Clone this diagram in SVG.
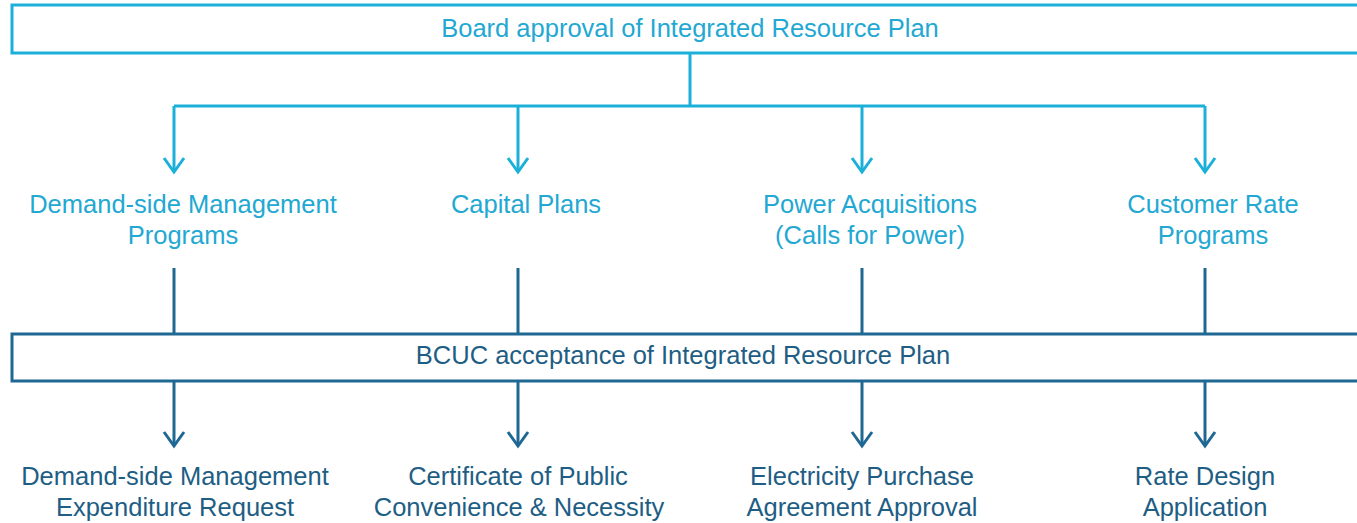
<svg xmlns="http://www.w3.org/2000/svg" width="1357" height="523" viewBox="0 0 1357 523">
<style>
.t{font-family:"Liberation Sans",Arial,sans-serif;font-size:25.5px;text-anchor:middle}
.lt{fill:#22A8D2}
.dk{fill:#1E5E84}
.bl{fill:none;stroke:#1BB0DA;stroke-width:3}
.bd{fill:none;stroke:#1F6894;stroke-width:3}
</style>
<defs>
<marker id="al" markerUnits="userSpaceOnUse" markerWidth="20" markerHeight="24" refX="17" refY="12" viewBox="0 0 20 24" orient="auto">
<path d="M3,2 L17,12 L3,22" fill="none" stroke="#1BB0DA" stroke-width="3"/>
</marker>
<marker id="ad" markerUnits="userSpaceOnUse" markerWidth="20" markerHeight="24" refX="17" refY="12" viewBox="0 0 20 24" orient="auto">
<path d="M3,2 L17,12 L3,22" fill="none" stroke="#1F6894" stroke-width="3"/>
</marker>
</defs>
<g id="connectors">
<path class="bl" d="M690,53 V106"/>
<path class="bl" d="M174,106 H1205"/>
<path class="bl" d="M174,106 V172" marker-end="url(#al)"/>
<path class="bl" d="M518,106 V172" marker-end="url(#al)"/>
<path class="bl" d="M862,106 V172" marker-end="url(#al)"/>
<path class="bl" d="M1205,106 V172" marker-end="url(#al)"/>
<path class="bd" d="M174,268 V334"/>
<path class="bd" d="M518,268 V334"/>
<path class="bd" d="M862,268 V334"/>
<path class="bd" d="M1205,268 V334"/>
<path class="bd" d="M174,381 V446" marker-end="url(#ad)"/>
<path class="bd" d="M518,381 V446" marker-end="url(#ad)"/>
<path class="bd" d="M862,381 V446" marker-end="url(#ad)"/>
<path class="bd" d="M1205,381 V446" marker-end="url(#ad)"/>
</g>
<g id="board">
<path class="bl" d="M1360,5 H12 V53 H1360"/>
<text class="t lt" x="690" y="37">Board approval of Integrated Resource Plan</text>
</g>
<g id="dsm">
<text class="t lt" x="183" y="213">Demand-side Management</text>
<text class="t lt" x="183" y="244">Programs</text>
</g>
<g id="capital">
<text class="t lt" x="526" y="213">Capital Plans</text>
</g>
<g id="power">
<text class="t lt" x="870" y="213">Power Acquisitions</text>
<text class="t lt" x="870" y="244">(Calls for Power)</text>
</g>
<g id="rate">
<text class="t lt" x="1213" y="213">Customer Rate</text>
<text class="t lt" x="1213" y="244">Programs</text>
</g>
<g id="bcuc">
<path class="bd" d="M1360,334 H12 V381 H1360"/>
<text class="t dk" x="683" y="364">BCUC acceptance of Integrated Resource Plan</text>
</g>
<g id="dsmreq">
<text class="t dk" x="175" y="485">Demand-side Management</text>
<text class="t dk" x="175" y="516">Expenditure Request</text>
</g>
<g id="cpcn">
<text class="t dk" x="518" y="485">Certificate of Public</text>
<text class="t dk" x="519" y="516">Convenience &amp; Necessity</text>
</g>
<g id="epa">
<text class="t dk" x="862" y="485">Electricity Purchase</text>
<text class="t dk" x="862" y="516">Agreement Approval</text>
</g>
<g id="rda">
<text class="t dk" x="1205" y="485">Rate Design</text>
<text class="t dk" x="1205" y="516">Application</text>
</g>
</svg>
